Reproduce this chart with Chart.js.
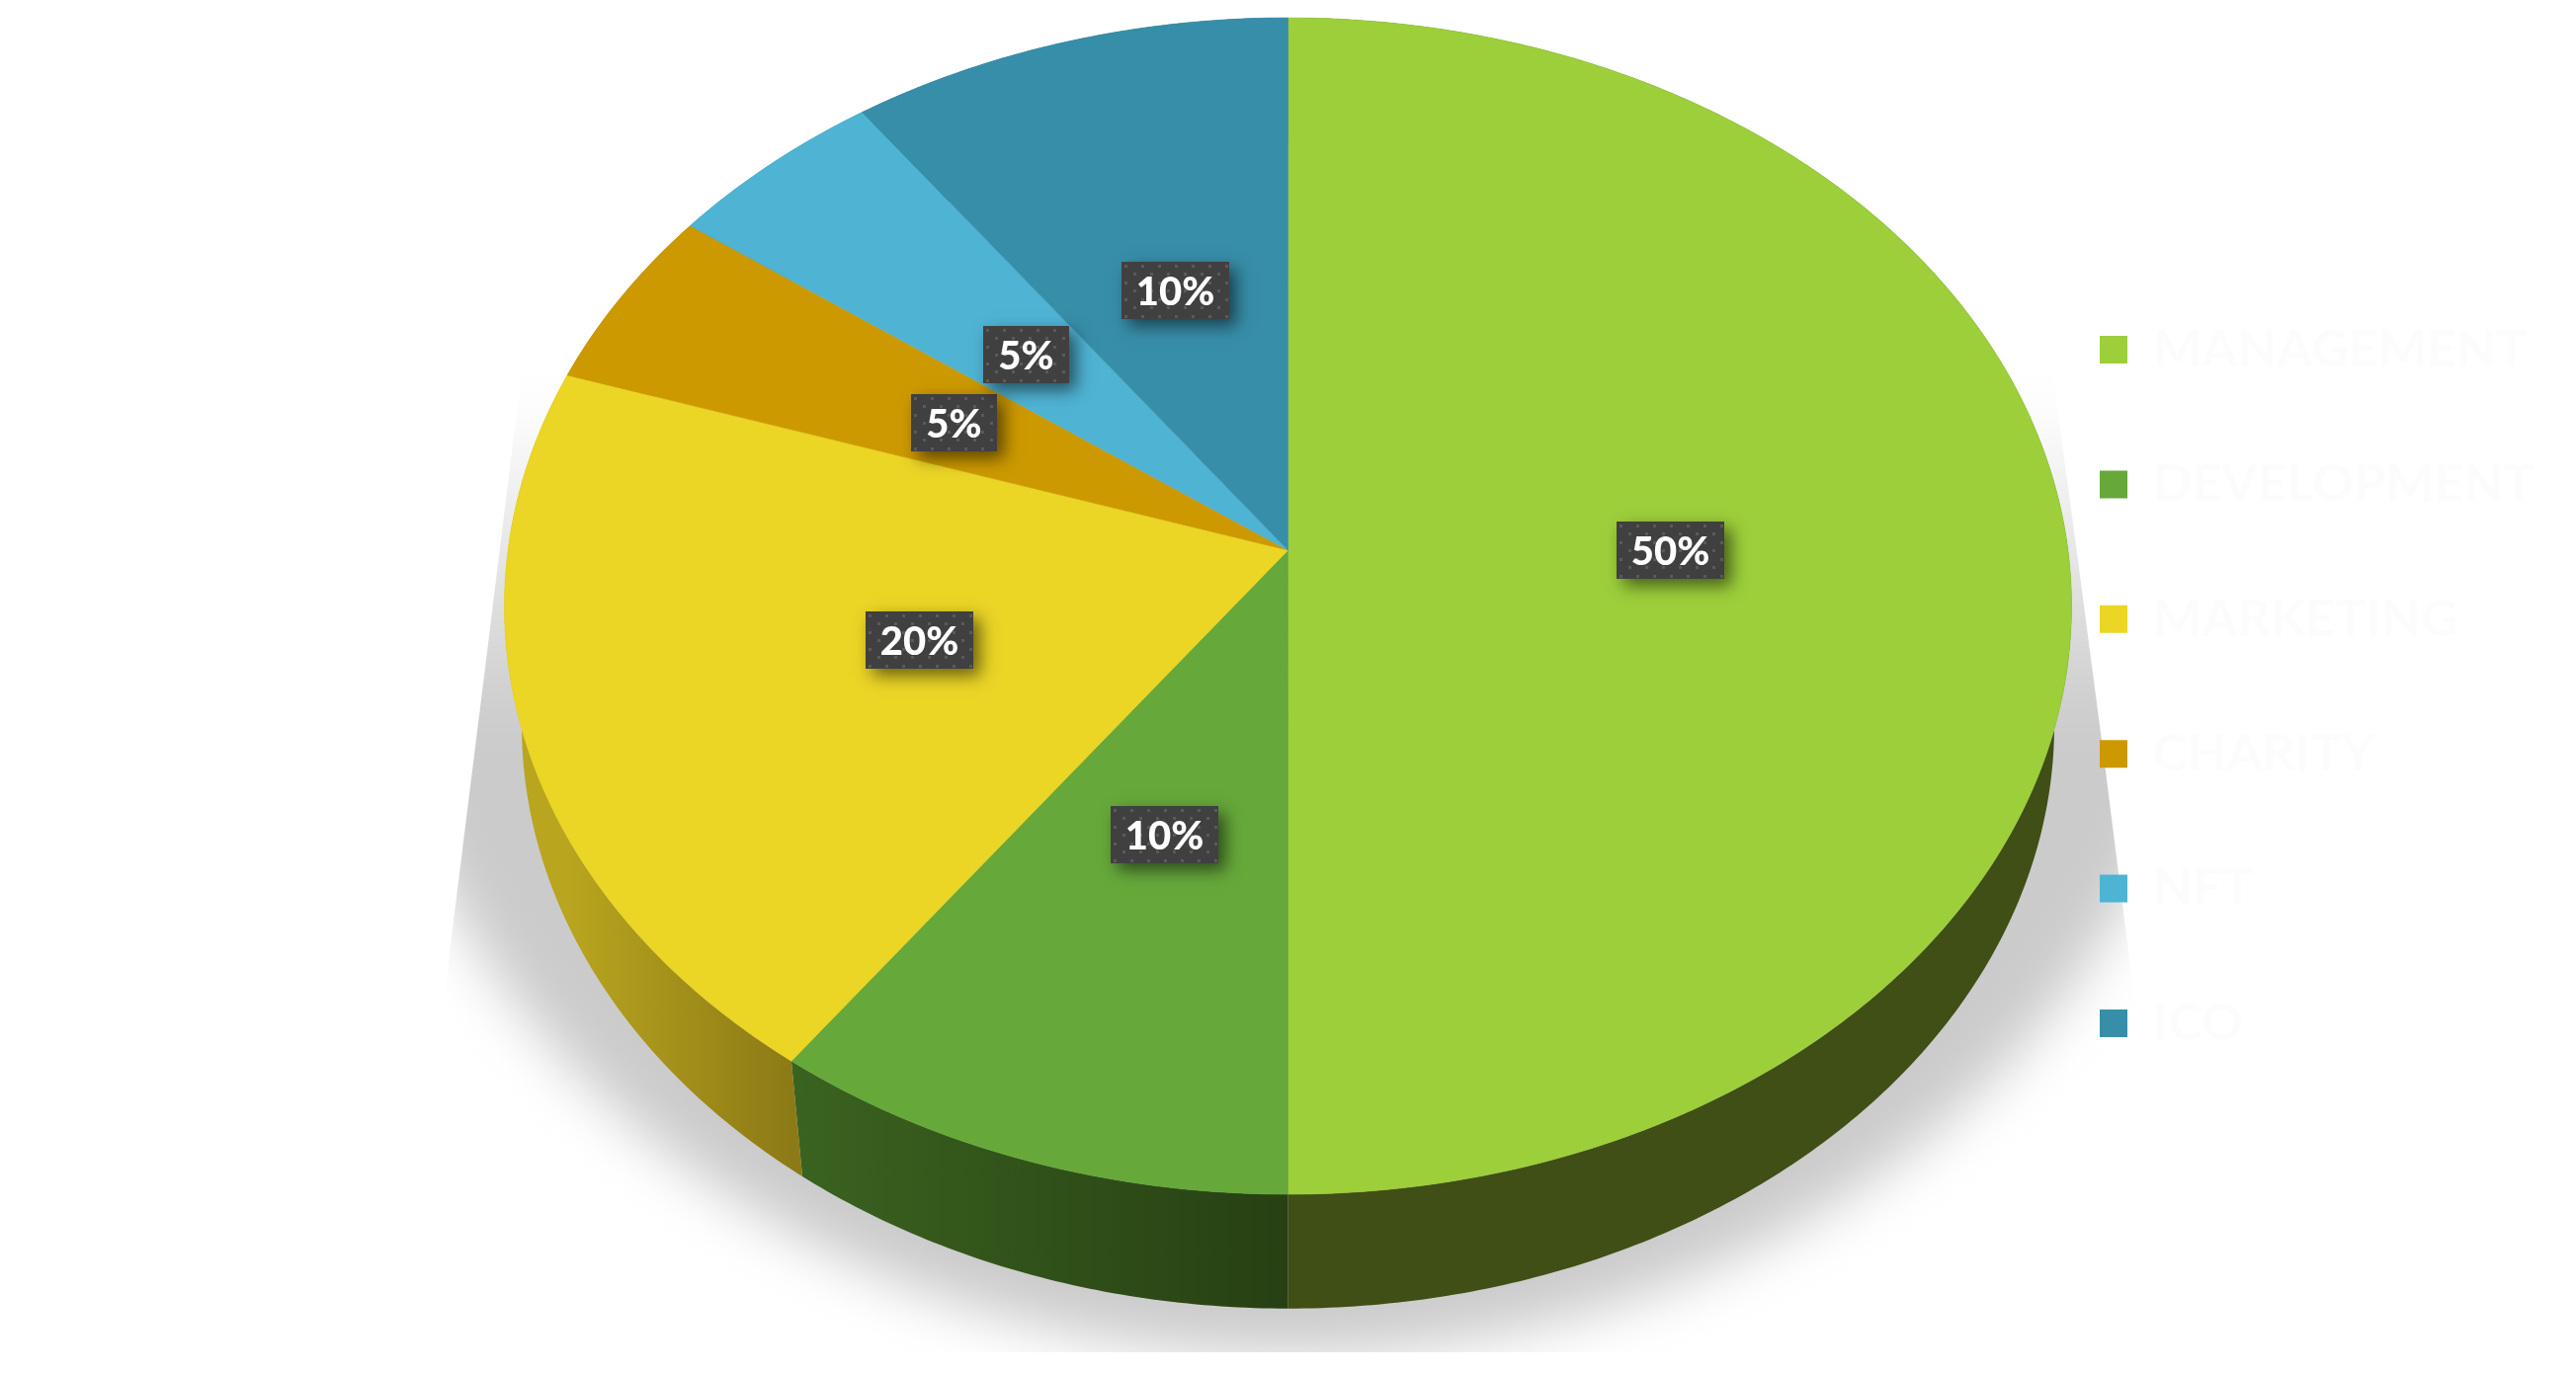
<!DOCTYPE html>
<html>
<head>
<meta charset="utf-8">
<title>Allocation</title>
<script src="https://cdn.jsdelivr.net/npm/chart.js@4"></script>
<style>
  html, body { margin: 0; padding: 0; background: #fff; overflow: hidden; }
  canvas { display: block; }
</style>
</head>
<body>
<canvas id="pieChart" width="2607" height="1390"></canvas>
<script>
// Chart data
const categories = ["MANAGEMENT", "DEVELOPMENT", "MARKETING", "CHARITY", "NFT", "ICO"]
const shares = [50, 10, 20, 5, 5, 10]

// Slice colours
const topColors = ["#9ccf3a", "#66a83a", "#ebd525", "#cc9900", "#4fb3d3", "#378ea9"]
const wallLeft = ["#3f4f15", "#3a6320", "#b9a51e", "#7a5c00", "#2f6b7f", "#214f60"]
const wallRight = ["#3f4f15", "#274013", "#8c7a16", "#7a5c00", "#2f6b7f", "#214f60"]

// Perspective of the disc, fitted to the picture
const centerX = 1303.5
const tilt = 0.0949
const topRim = { rx: 789.4, ry: 537.3, y: 557 }
const lowRim = { rx: 772, ry: 521, y: 678 }
const labelRadius = 0.49

function project(rim, angle, radius = 1) {
  const u = Math.cos(angle) * radius
  const v = Math.sin(angle) * radius
  const w = 1 - tilt * v
  return { x: centerX + (rim.rx * u) / w, y: (rim.ry * v + rim.y) / w }
}

function traceRim(ctx, rim, from, to) {
  const steps = Math.max(8, Math.ceil(Math.abs(to - from) / 0.01))
  for (let i = 0; i <= steps; i++) {
    const p = project(rim, from + ((to - from) * i) / steps)
    ctx.lineTo(p.x, p.y)
  }
}

function drawShadow(ctx) {
  ctx.save()
  ctx.beginPath()
  ctx.moveTo(530, 360)
  ctx.lineTo(493, 660)
  ctx.lineTo(457, 948)
  ctx.lineTo(410, 1369)
  ctx.lineTo(2205, 1369)
  ctx.lineTo(2152, 947)
  ctx.lineTo(2130, 773)
  ctx.lineTo(2102, 560)
  ctx.lineTo(2075, 360)
  ctx.closePath()
  ctx.clip()

  const fade = ctx.createLinearGradient(0, 400, 0, 740)
  fade.addColorStop(0, "rgba(203, 203, 203, 0)")
  fade.addColorStop(1, "rgba(203, 203, 203, 1)")
  ctx.filter = "blur(28px)"
  ctx.fillStyle = fade
  ctx.beginPath()
  ctx.ellipse(centerX, 591, 930, 780, 0, 0, Math.PI * 2)
  ctx.fill()
  ctx.restore()
}

function drawWall(ctx, arc, i) {
  const start = project(topRim, arc.startAngle)
  const end = project(topRim, arc.endAngle)
  const left = Math.min(start.x, end.x)
  const right = Math.max(start.x, end.x)
  if (right - left > 1) {
    const gradient = ctx.createLinearGradient(left, 0, right, 0)
    gradient.addColorStop(0, wallLeft[i])
    gradient.addColorStop(1, wallRight[i])
    ctx.fillStyle = gradient
  } else {
    ctx.fillStyle = wallLeft[i]
  }
  ctx.beginPath()
  traceRim(ctx, topRim, arc.startAngle, arc.endAngle)
  traceRim(ctx, lowRim, arc.endAngle, arc.startAngle)
  ctx.closePath()
  ctx.fill()
}

function drawTop(ctx, arc, i) {
  const apex = project(topRim, 0, 0)
  ctx.fillStyle = topColors[i]
  ctx.strokeStyle = topColors[i]
  ctx.lineWidth = 0.6
  ctx.beginPath()
  ctx.moveTo(apex.x, apex.y)
  traceRim(ctx, topRim, arc.startAngle, arc.endAngle)
  ctx.closePath()
  ctx.fill()
  ctx.stroke()
}

function dotPattern(ctx) {
  const tile = document.createElement("canvas")
  tile.width = 17
  tile.height = 17
  const t = tile.getContext("2d")
  t.fillStyle = "#404040"
  t.fillRect(0, 0, 17, 17)
  t.fillStyle = "#5a5a5a"
  t.fillRect(3, 3, 3, 3)
  t.fillRect(12, 11, 3, 3)
  return ctx.createPattern(tile, "repeat")
}

function drawLabel(ctx, arc, value, pattern) {
  const mid = (arc.startAngle + arc.endAngle) / 2
  const p = project(topRim, mid, labelRadius)
  const text = `${value}%`
  const width = value >= 10 ? 109 : 87
  const height = 58

  ctx.save()
  ctx.translate(Math.round(p.x - width / 2), Math.round(p.y - height / 2))
  ctx.shadowColor = "rgba(0, 0, 0, 0.55)"
  ctx.shadowBlur = 16
  ctx.shadowOffsetX = 7
  ctx.shadowOffsetY = 7
  ctx.fillStyle = "#404040"
  ctx.fillRect(0, 0, width, height)
  ctx.shadowColor = "transparent"
  ctx.fillStyle = pattern
  ctx.fillRect(0, 0, width, height)
  ctx.fillStyle = "#ffffff"
  ctx.font = "900 40px Lato"
  ctx.textAlign = "center"
  ctx.textBaseline = "middle"
  ctx.fillText(text, width / 2, height / 2 + 2)
  ctx.restore()
}

// Replaces the flat pie drawing with the tilted disc
const tiltedPie = {
  id: "tiltedPie",
  afterLayout(chart) {
    chart.legend.left = 2125 - chart.legend.options.labels.padding
    chart.legend.right = 2607
  },
  beforeDraw(chart) {
    drawShadow(chart.ctx)
  },
  beforeDatasetDraw(chart, args) {
    const ctx = chart.ctx
    const arcs = args.meta.data
    const values = chart.data.datasets[args.index].data
    const pattern = dotPattern(ctx)

    arcs.forEach((arc, i) => drawWall(ctx, arc, i))
    arcs.forEach((arc, i) => drawTop(ctx, arc, i))
    arcs.forEach((arc, i) => drawLabel(ctx, arc, values[i], pattern))
    return false
  },
}

new Chart(document.getElementById("pieChart"), {
  type: "pie",
  data: {
    labels: categories,
    datasets: [{ data: shares, backgroundColor: topColors, borderWidth: 0 }],
  },
  options: {
    responsive: false,
    animation: false,
    plugins: {
      tooltip: { enabled: false },
      legend: {
        position: "right",
        labels: {
          boxWidth: 28,
          boxHeight: 28,
          padding: 84.4,
          color: "#fcfcfc",
          font: { family: "Lato", size: 52, weight: "bold" },
        },
      },
    },
  },
  plugins: [tiltedPie],
})
</script>
</body>
</html>
